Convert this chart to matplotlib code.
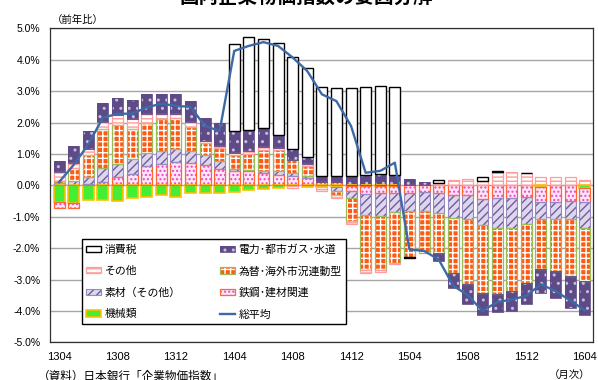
import numpy as np
import matplotlib
matplotlib.use('Agg')
import matplotlib.pyplot as plt
from matplotlib.patches import Patch
from matplotlib.legend_handler import HandlerTuple

plt.rcParams['font.family'] = ['Liberation Sans', 'Noto Sans CJK JP']
plt.rcParams['hatch.linewidth'] = 1.0
JP = ['Noto Sans CJK JP', 'DejaVu Sans']

# months 2013/04 .. 2016/04
months = ['1304', '1305', '1306', '1307', '1308', '1309', '1310', '1311', '1312',
          '1401', '1402', '1403', '1404', '1405', '1406', '1407', '1408', '1409',
          '1410', '1411', '1412', '1501', '1502', '1503', '1504', '1505', '1506',
          '1507', '1508', '1509', '1510', '1511', '1512', '1601', '1602', '1603', '1604']

# contributions (%pt)
machinery = [-0.52, -0.55, -0.47, -0.48, -0.50, -0.41, -0.36, -0.31, -0.36, -0.23, -0.25, -0.26,
             -0.20, -0.16, -0.13, -0.07, -0.02, -0.05, -0.06, -0.06, -0.03, -0.03, -0.03, -0.03,
             0, 0, 0, 0, 0, 0, 0, 0, 0, -0.04, 0, 0, -0.08]
steel = [-0.19, -0.16, 0.03, 0.10, 0.25, 0.37, 0.62, 0.69, 0.75, 0.72, 0.65, 0.51,
         0.46, 0.45, 0.40, 0.32, 0.30, 0.24, 0.10, 0.10, -0.15, -0.26, -0.22, -0.20,
         -0.23, -0.21, -0.23, -0.31, -0.31, -0.45, -0.41, -0.41, -0.37, -0.50, -0.52, -0.50, -0.45]
materials = [0.06, 0.14, 0.24, 0.46, 0.44, 0.46, 0.40, 0.40, 0.40, 0.37, 0.31, 0.26,
             0.05, 0.05, 0.06, 0.14, 0.10, 0.06, 0, -0.12, -0.24, -0.67, -0.73, -0.62,
             -0.59, -0.61, -0.64, -0.72, -0.77, -0.81, -0.94, -0.94, -0.87, -0.54, -0.56, -0.58, -0.82]
fx_linked = [0.08, 0.42, 0.70, 1.22, 1.22, 0.95, 0.98, 1.01, 0.98, 0.78, 0.38, 0.41,
             0.45, 0.51, 0.66, 0.66, 0.41, 0.31, 0, -0.14, -0.72, -1.74, -1.72, -1.61,
             -1.45, -1.35, -1.27, -1.75, -2.07, -2.16, -2.10, -2.02, -1.86, -1.60, -1.65, -1.81, -1.70]
others = [0.27, 0.14, 0.18, 0.24, 0.32, 0.32, 0.26, 0.16, 0.13, 0.15, 0.07, 0.07,
          0.06, 0.07, 0.11, 0.06, -0.06, 0.06, -0.12, -0.07, -0.10, -0.08, -0.06, -0.04,
          0, 0, 0.06, 0.16, 0.21, 0.14, 0.42, 0.42, 0.38, 0.28, 0.28, 0.25, 0.17]
power = [0.37, 0.56, 0.58, 0.60, 0.56, 0.62, 0.64, 0.64, 0.64, 0.66, 0.72, 0.75,
         0.71, 0.69, 0.59, 0.42, 0.35, 0.24, 0.20, 0.20, 0.30, 0.33, 0.35, 0.33,
         0.20, 0.10, -0.27, -0.48, -0.62, -0.71, -0.60, -0.63, -0.69, -0.74, -0.87, -1.01, -1.08]
tax = [0, 0, 0, 0, 0, 0, 0, 0, 0, 0, 0, 0,
       2.76, 2.95, 2.85, 2.94, 2.94, 2.82, 2.83, 2.81, 2.81, 2.80, 2.82, 2.80,
       -0.05, 0, 0.12, 0, 0, 0.11, 0.02, 0, 0.02, 0, 0, 0, 0]
total = [0.1, 0.65, 1.3, 2.15, 2.28, 2.28, 2.48, 2.6, 2.53, 2.5, 1.89, 1.73,
         4.28, 4.44, 4.56, 4.44, 4.07, 3.64, 2.9, 2.68, 1.89, 0.4, 0.46, 0.72,
         -2.04, -2.09, -2.36, -3.2, -3.5, -4.0, -3.72, -3.64, -3.52, -3.15, -3.37, -3.66, -3.98]

# (label, values, face, hatch, hatch colour, edge colour, edge width) bottom -> top
series = [
    ('機械類', machinery, '#44EE33', None, '#44EE33', '#FFC000', 1.2),
    ('鉄鋼･建材関連', steel, '#FFE6F7', '....', '#EE44CC', '#FF6633', 0.9),
    ('素材（その他）', materials, '#DDD6EC', '////', '#6E5C9E', '#9A88C0', 0.8),
    ('為替･海外市況連動型', fx_linked, '#FF5A14', '+++', 'white', '#9BBB59', 0.9),
    ('その他', others, 'white', '----', '#FF9C9C', '#FF9C9C', 0.9),
    ('電力･都市ガス･水道', power, '#5E4A86', '..', '#C8BEDC', '#5E4A86', 0.6),
    ('消費税', tax, 'white', None, 'white', 'black', 1.0),
]

fig = plt.figure(figsize=(5.98, 3.80), dpi=100)
ax = fig.add_axes([0.0836, 0.0992, 0.9075, 0.8263])

x = np.arange(len(months))
width = 0.75
pos_base = np.zeros(len(x))
neg_base = np.zeros(len(x))
handles = {}
for label, vals, face, hatch, hcol, edge, lw in series:
    v = np.array(vals, dtype=float)
    bottoms = np.where(v >= 0, pos_base, neg_base)
    m = v != 0
    ax.bar(x[m], v[m], width, bottom=bottoms[m], color=face, edgecolor=hcol,
           linewidth=0, hatch=hatch, zorder=2)
    ax.bar(x[m], v[m], width, bottom=bottoms[m], fill=False, edgecolor=edge,
           linewidth=lw, zorder=3)
    pos_base = pos_base + np.where(v > 0, v, 0)
    neg_base = neg_base + np.where(v < 0, v, 0)
    handles[label] = (Patch(facecolor=face, edgecolor=hcol, linewidth=0, hatch=hatch),
                      Patch(fill=False, edgecolor=edge, linewidth=lw))

line, = ax.plot(x, total, color='#3C6AA6', lw=1.7, zorder=5)

ax.set_xlim(-0.62, 36.55)
ax.set_ylim(-5, 5)
ax.set_yticks(np.arange(-5, 5.01, 1))
ax.set_yticklabels(['%.1f%%' % t for t in np.arange(-5, 5.01, 1)], fontsize=7.5)
ax.set_xticks(x[::4])
ax.set_xticklabels(months[::4], fontsize=8)
ax.tick_params(length=0, pad=7)
ax.yaxis.grid(True, color='#A6A6A6', lw=1)
ax.set_axisbelow(True)
for s in ax.spines.values():
    s.set_color('#303030')
    s.set_linewidth(0.9)

order = ['消費税', 'その他', '素材（その他）', '機械類',
         '電力･都市ガス･水道', '為替･海外市況連動型', '鉄鋼･建材関連']
h = [handles[k] for k in order] + [line]
labs = order + ['総平均']
leg = fig.legend(h, labs, ncol=2, loc='upper left', bbox_to_anchor=(0.128, 0.384),
                 handler_map={tuple: HandlerTuple(ndivide=1)},
                 prop={'family': JP, 'size': 7.8}, frameon=True, fancybox=False,
                 edgecolor='black', framealpha=1, handlelength=1.4, handleheight=0.5,
                 handletextpad=0.3, columnspacing=3.6, labelspacing=1.05, borderpad=0.4)
leg.get_frame().set_linewidth(1.0)

fig.text(0.512, 1.0066, '国内企業物価指数の要因分解', ha='center', va='center',
         fontsize=14, weight='bold', family=JP)
fig.text(0.13, 0.947, '（前年比）', ha='center', va='center', fontsize=7.5, family=JP)
fig.text(0.953, 0.013, '（月次）', ha='center', va='center', fontsize=7.5, family=JP)
fig.text(0.064, 0.0092, '（資料）日本銀行「企業物価指数」', ha='left', va='center',
         fontsize=8.4, family=JP)

fig.savefig('out.png', dpi=100)
